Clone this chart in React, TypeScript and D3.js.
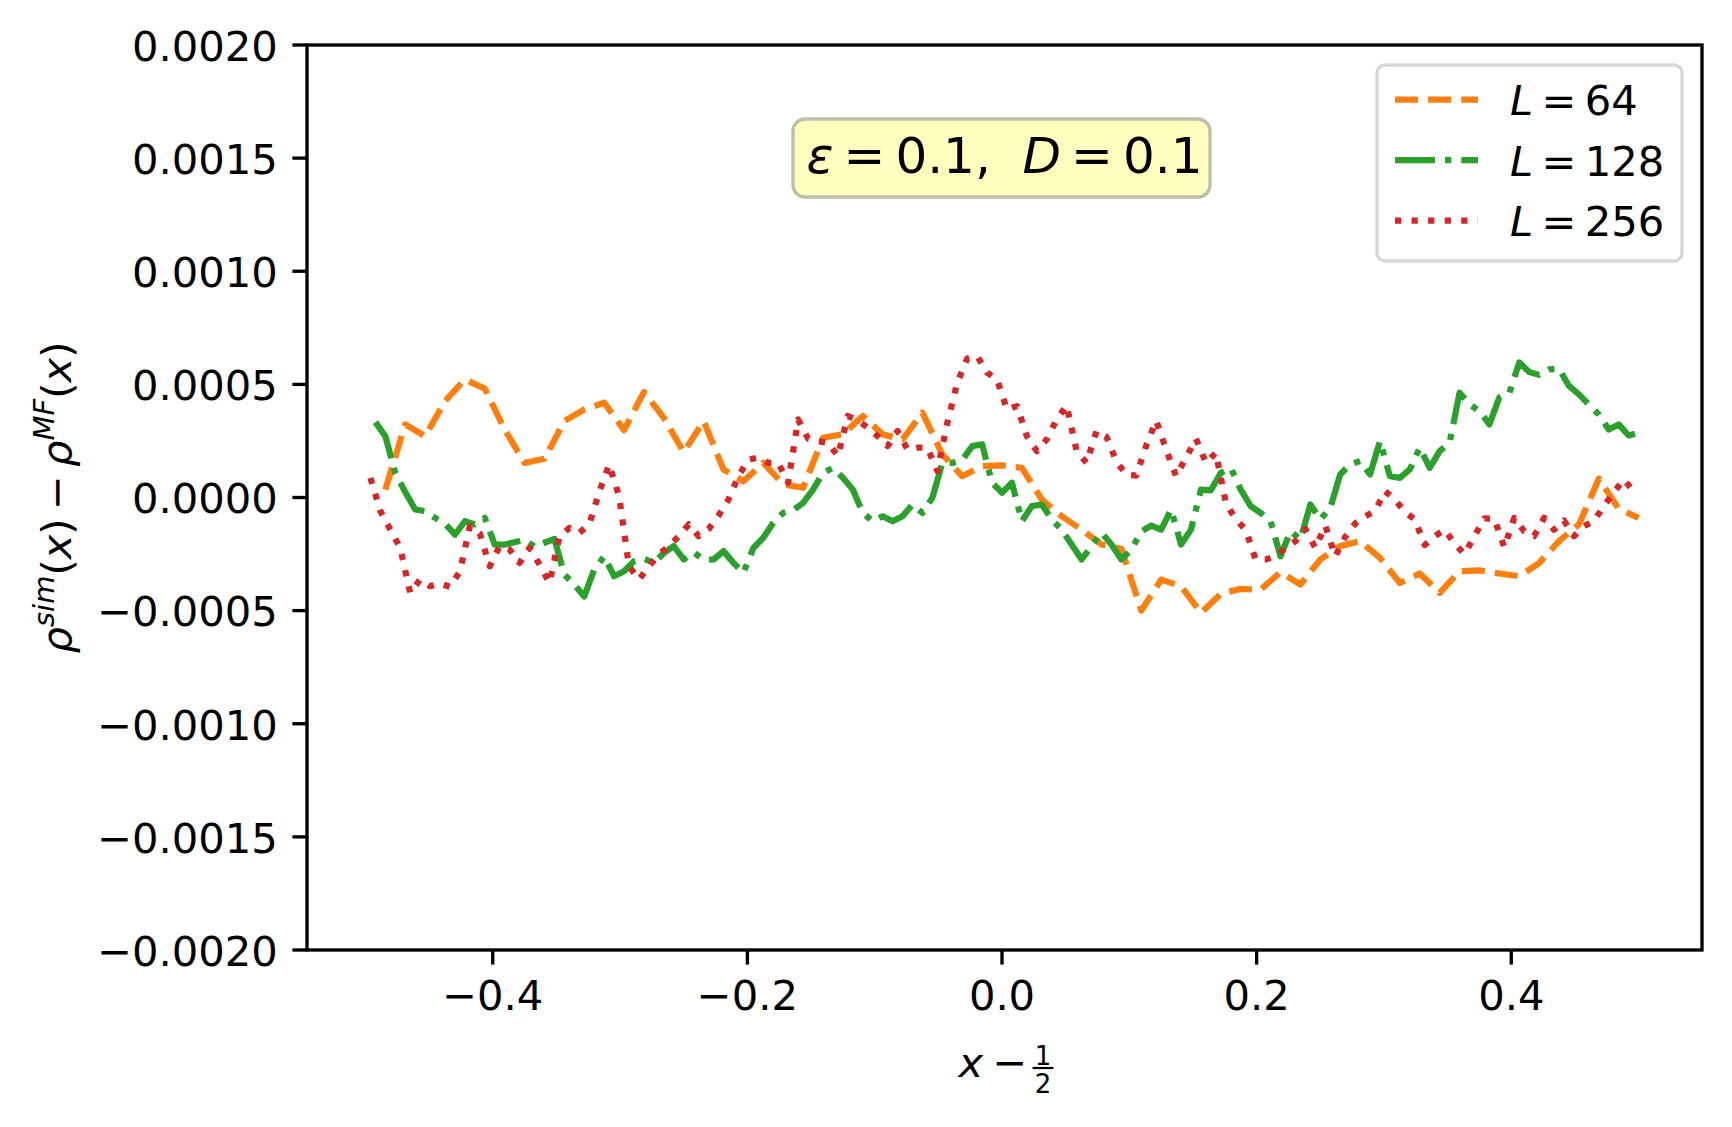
import React from "react";
import * as d3 from "d3";

const W = 1732;
const H = 1127;
const PLOT = { left: 307, right: 1702, top: 45, bottom: 950 };
const FONT = "'DejaVu Sans', sans-serif";
const FS = 41.67; // 10pt @ 300dpi
const THIN = "\u2009";

const yTicks = [-0.002, -0.0015, -0.001, -0.0005, 0, 0.0005, 0.001, 0.0015, 0.002];
const xTicks = [-0.4, -0.2, 0.0, 0.2, 0.4];

// rho_sim - rho_MF, in units of 1e-4
const rhoL64 = [
  0.35, 3.23, 2.71, 4.26, 5.22, 4.81, 3.0, 1.53, 1.71, 3.38, 3.89, 4.19, 2.98, 4.66, 3.52, 2.0,
  3.38, 1.24, 0.72, 1.53, 0.58, 0.43, 2.64, 2.79, 3.6, 2.79, 2.57, 3.75, 1.9, 0.94, 1.39, 1.42,
  1.31, -0.09, -0.83, -1.42, -2.08, -2.27, -5.0, -3.63, -3.92, -5.1, -4.25, -4.04, -4.07, -3.3, -3.85, -2.74,
  -2.15, -1.93, -2.67, -3.78, -3.36, -4.22, -3.26, -3.22, -3.36, -3.48, -2.9, -1.93, -1.19, 0.83, -0.5, -0.9,
];

const rhoL128 = [
  3.33, 2.71, 1.09, 0.24, -0.53, -0.6, -0.9, -1.15, -1.64, -1.05, -1.19, -0.9, -2.08, -2.08, -1.98, -1.86,
  -2.18, -2.0, -1.83, -3.41, -3.85, -4.37, -3.19, -2.6, -3.48, -3.26, -2.82, -2.71, -2.89, -2.45, -2.15, -2.74,
  -2.42, -2.75, -2.74, -2.37, -2.89, -3.33, -2.23, -1.78, -1.12, -0.68, -0.56, -0.24, 0.35, 1.09, 1.31, 0.87,
  0.35, -0.68, -1.05, -0.83, -1.05, -0.83, -0.31, -0.68, -0.01, 1.53, 1.53, 1.65, 2.27, 2.35, 0.65, 0.21,
  0.65, -1.05, -0.38, -0.31, -0.97, -1.42, -2.08, -2.74, -2.15, -1.55, -2.08, -2.74, -2.3, -1.5, -1.24, -1.42,
  -0.53, -2.08, -1.42, 0.35, 0.32, 1.09, 1.31, 0.35, -0.38, -0.68, -1.05, -2.6, -1.49, -1.86, -0.31, -0.97,
  -0.46, 1.02, 1.46, 1.61, 1.02, 2.49, 0.94, 0.87, 1.24, 2.2, 1.31, 2.05, 2.42, 4.63, 4.12, 3.82,
  3.23, 4.42, 4.6, 5.97, 5.55, 5.42, 5.66, 5.69, 4.93, 4.56, 4.11, 3.67, 3.01, 3.23, 2.74, 2.86,
];

// L = 256, read at every other lattice site
const rhoL256 = [
  0.87, -0.6, -1.42, -2.23, -4.22, -3.63, -3.92, -3.8, -3.95, -3.26, -1.27, -1.59, -3.04, -2.15, -2.3, -2.89,
  -2.23, -2.96, -3.78, -1.74, -1.34, -1.56, -1.19, 0.24, 1.46, 0.06, -3.04, -3.63, -3.04, -2.52, -2.15, -1.71,
  -1.19, -1.71, -1.4, -0.8, -0.09, 0.94, 1.68, 1.76, 1.53, 1.53, 0.65, 3.45, 2.6, 2.49, 2.42, 1.83,
  3.6, 3.42, 3.08, 2.71, 2.27, 2.94, 2.12, 2.2, 2.2, 1.17, 3.3, 5.07, 6.14, 6.25, 5.52, 5.22,
  3.89, 4.04, 2.71, 2.05, 2.57, 3.45, 4.07, 2.05, 1.53, 2.94, 2.68, 1.6, 1.0, 0.97, 2.3, 3.4,
  2.12, 0.94, 1.76, 2.6, 1.53, 1.98, -0.24, -0.97, -1.42, -2.74, -2.74, -2.6, -2.23, -1.93, -1.39, -2.23,
  -1.24, -2.6, -1.74, -1.15, -0.83, -0.6, 0.28, -0.09, -0.64, -0.97, -2.1, -1.71, -1.42, -2.04, -2.5, -1.71,
  -0.92, -0.94, -2.2, -0.9, -1.5, -1.7, -0.9, -1.42, -1.02, -1.71, -1.27, -1.05, -0.38, 0.21, 0.8, 0.28,
];

const sizes = ["64", "128", "256"];
const colors = ["#ff7f0e", "#2ca02c", "#d62728"];
const dashes = ["23.1 10", "40 10 6.25 10", "6.25 10.3"];

const xsL64 = rhoL64.map((_, i) => (i + 1) / 64 - 0.5);
const xsL128 = rhoL128.map((_, i) => (i + 1) / 128 - 0.5);
const xsL256 = rhoL256.map((_, i) => (2 * i + 1) / 256 - 0.5);

const seriesX = [xsL64, xsL128, xsL256];
const seriesY = [rhoL64, rhoL128, rhoL256];

const xMin = -0.5 + 1 / 256;
const xMax = 0.5;
const xPad = 0.05 * (xMax - xMin);

const x = d3.scaleLinear().domain([xMin - xPad, xMax + xPad]).range([PLOT.left, PLOT.right]);
const y = d3.scaleLinear().domain([-0.002, 0.002]).range([PLOT.bottom, PLOT.top]);

const fmtY = d3.format(".4f");
const fmtX = d3.format(".1f");

const line = d3
  .line<[number, number]>()
  .x((d) => x(d[0]))
  .y((d) => y(d[1] * 1e-4));

const App = () => {
  const tick = 14.6;
  const lw = 3.33;
  const cx = (PLOT.left + PLOT.right) / 2;
  const cy = (PLOT.top + PLOT.bottom) / 2;
  const legX = 1377;
  const legY = 65;
  const rowY = [99.5, 160, 220.5];

  return (
    <div style={{ position: "absolute", left: 0, top: 0, background: "#fff" }}>
      <svg width={W} height={H} fontFamily={FONT} style={{ display: "block" }}>
        <rect width={W} height={H} fill="#fff" />

        {/* series */}
        {seriesY.map((vals, k) => (
          <path
            key={k}
            d={line(vals.map((v, i) => [seriesX[k][i], v]) as [number, number][]) || ""}
            fill="none"
            stroke={colors[k]}
            strokeWidth={6.25}
            strokeDasharray={dashes[k]}
            strokeLinecap="butt"
            strokeLinejoin="round"
          />
        ))}

        {/* frame */}
        <rect
          x={PLOT.left}
          y={PLOT.top}
          width={PLOT.right - PLOT.left}
          height={PLOT.bottom - PLOT.top}
          fill="none"
          stroke="#000"
          strokeWidth={lw}
          strokeLinejoin="miter"
        />

        {/* y axis */}
        {yTicks.map((t) => (
          <g key={t}>
            <line x1={PLOT.left - tick} x2={PLOT.left} y1={y(t)} y2={y(t)} stroke="#000" strokeWidth={lw} />
            <text x={PLOT.left - tick - 14.6} y={y(t)} dy="0.38em" textAnchor="end" fontSize={FS}>
              {fmtY(t)}
            </text>
          </g>
        ))}

        {/* x axis */}
        {xTicks.map((t) => (
          <g key={t}>
            <line x1={x(t)} x2={x(t)} y1={PLOT.bottom} y2={PLOT.bottom + tick} stroke="#000" strokeWidth={lw} />
            <text x={x(t)} y={PLOT.bottom + tick + 14.6 + 31} textAnchor="middle" fontSize={FS}>
              {fmtX(t)}
            </text>
          </g>
        ))}

        {/* x label: x - 1/2 */}
        <g fontSize={FS}>
          <text x={cx - 46} y={1077} fontStyle="italic">x</text>
          <text x={cx - 12} y={1077}>−</text>
          <text x={cx + 38.5} y={1065} textAnchor="middle" fontSize={26}>1</text>
          <line x1={cx + 28} x2={cx + 49} y1={1068} y2={1068} stroke="#000" strokeWidth={2.2} />
          <text x={cx + 38.5} y={1093} textAnchor="middle" fontSize={26}>2</text>
        </g>

        {/* y label */}
        <text transform={`translate(71,${cy}) rotate(-90)`} textAnchor="middle" fontSize={FS} style={{ whiteSpace: "pre" }}>
          <tspan fontStyle="italic">ρ</tspan>
          <tspan fontStyle="italic" fontSize={29} dy={-17}>sim</tspan>
          <tspan dy={17}>(</tspan>
          <tspan fontStyle="italic">x</tspan>
          <tspan>{`)${THIN}−${THIN}`}</tspan>
          <tspan fontStyle="italic">ρ</tspan>
          <tspan fontStyle="italic" fontSize={29} dy={-17}>MF</tspan>
          <tspan dy={17}>(</tspan>
          <tspan fontStyle="italic">x</tspan>
          <tspan>)</tspan>
        </text>

        {/* parameter box */}
        <rect x={793} y={119} width={417} height={78} rx={12} fill="#ffffc0" stroke="#bebeaa" strokeWidth={3.3} />
        <text x={cx} y={172.7} textAnchor="middle" fontSize={50} style={{ whiteSpace: "pre" }}>
          <tspan fontStyle="italic">ε</tspan>
          <tspan>{`${THIN}=${THIN}0.1,  `}</tspan>
          <tspan fontStyle="italic">D</tspan>
          <tspan>{`${THIN}=${THIN}0.1`}</tspan>
        </text>

        {/* legend */}
        <rect x={legX} y={legY} width={305} height={196} rx={8} fill="#fff" stroke="#d6d6d6" strokeWidth={3.3} />
        {sizes.map((s, k) => (
          <g key={s}>
            <line
              x1={1395}
              x2={1478}
              y1={rowY[k]}
              y2={rowY[k]}
              stroke={colors[k]}
              strokeWidth={6.25}
              strokeDasharray={dashes[k]}
            />
            <text x={1510} y={rowY[k] + 15.5} fontSize={FS} style={{ whiteSpace: "pre" }}>
              <tspan fontStyle="italic">L</tspan>
              <tspan>{`${THIN}=${THIN}${s}`}</tspan>
            </text>
          </g>
        ))}
      </svg>
    </div>
  );
};

export default App;
